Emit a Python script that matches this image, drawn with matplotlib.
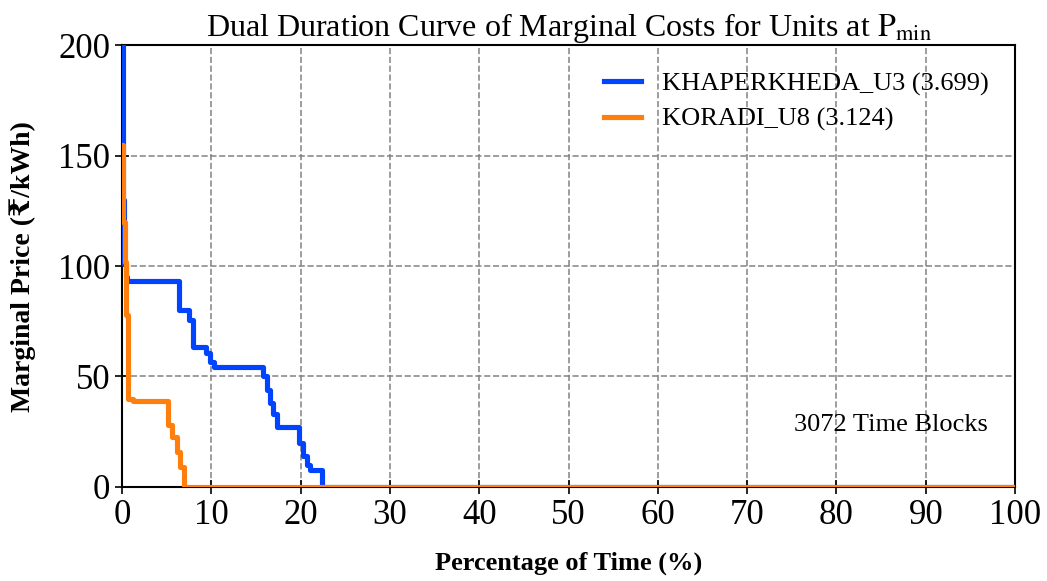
import matplotlib
matplotlib.use('Agg')
import matplotlib.pyplot as plt

plt.rcParams['font.family'] = ['Liberation Serif', 'DejaVu Serif']
plt.rcParams['mathtext.fontset'] = 'stix'

# dual duration curves: step start (% of time) and marginal price level (Rs/kWh)
khap_pct = [0.0, 0.1, 0.2, 0.4, 0.6, 6.4, 7.5, 7.9, 9.4, 9.9, 10.3, 15.8, 16.2, 16.6, 16.9, 17.4, 19.8, 20.3, 20.7, 21.1, 22.4, 100.0]
khap_val = [200.0, 130.0, 101.0, 95.0, 93.3, 80.0, 75.5, 63.5, 60.6, 56.7, 54.4, 50.0, 44.0, 38.0, 33.0, 27.3, 20.0, 14.0, 10.0, 7.7, 0.0, 0.0]

kor_pct = [0.0, 0.15, 0.35, 0.5, 0.7, 1.2, 5.1, 5.6, 6.2, 6.5, 7.0, 100.0]
kor_val = [155.0, 120.0, 102.0, 78.0, 40.0, 39.0, 28.0, 22.5, 16.0, 9.0, 0.0, 0.0]

labels = ['KHAPERKHEDA_U3 (3.699)', 'KORADI_U8 (3.124)']
colors = ['#0044ff', '#ff7f0e']
n_blocks = 3072

fig, ax = plt.subplots(figsize=(10.47, 5.81), dpi=100)
fig.subplots_adjust(left=0.1165, right=0.9695, top=0.922, bottom=0.162)

ax.plot(khap_pct, khap_val, color=colors[0], lw=3.7, label=labels[0],
        drawstyle='steps-post', zorder=3)
ax.plot(kor_pct, kor_val, color=colors[1], lw=3.7, label=labels[1],
        drawstyle='steps-post', zorder=4)

ax.set_xlim(0, 100)
ax.set_ylim(0, 200)
ax.set_xticks(range(0, 101, 10))
ax.set_yticks(range(0, 201, 50))
ax.tick_params(axis='both', direction='inout', length=10, width=1.2, labelsize=25)
ax.tick_params(axis='x', pad=4)
ax.grid(True, linestyle='--', color='gray', lw=1.2, alpha=0.9)
for sp in ax.spines.values():
    sp.set_linewidth(1.5)

ax.set_title(r'Dual Duration Curve of Marginal Costs for Units at $\mathrm{P_{min}}$',
             fontsize=23, pad=6)
ax.set_xlabel('Percentage of Time (%)', fontsize=19, fontweight='bold', labelpad=14)
ax.set_ylabel('Marginal Price (₹/kWh)', fontsize=20, fontweight='bold', labelpad=16)

ax.legend(loc='upper right', fontsize=19, frameon=False, handlelength=1.4,
          borderaxespad=0.6, labelspacing=0.45)
ax.text(0.969, 0.14, f'{n_blocks} Time Blocks', transform=ax.transAxes,
        ha='right', va='center', fontsize=19)

plt.savefig('out.png', dpi=100)
